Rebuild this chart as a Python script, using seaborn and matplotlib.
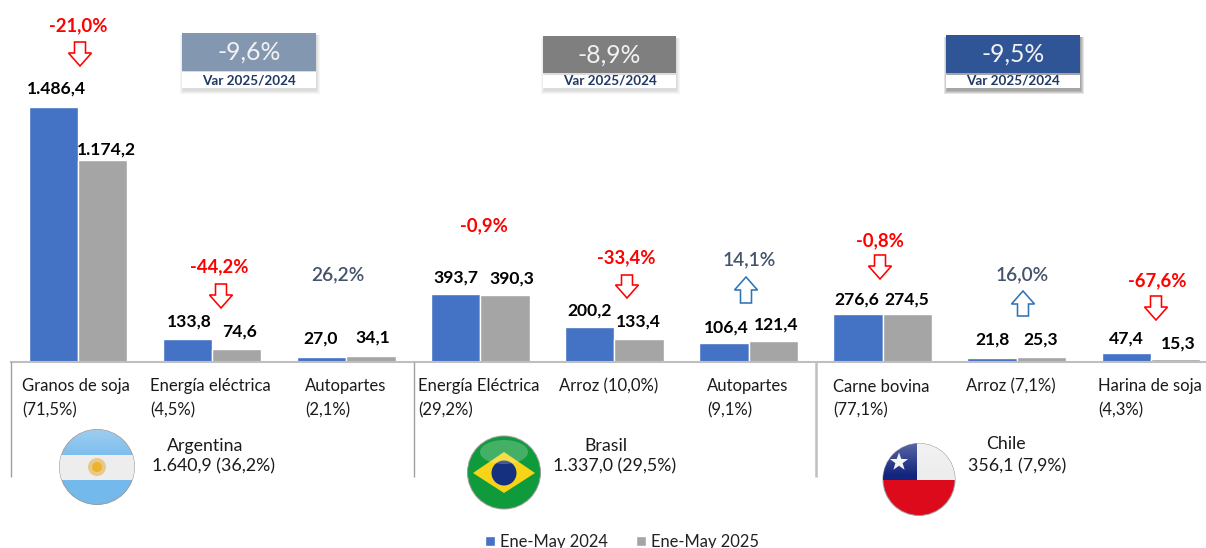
import numpy as np
import pandas as pd
import matplotlib
matplotlib.use("Agg")
import matplotlib.pyplot as plt
from matplotlib.patches import Circle, Ellipse, Polygon, Rectangle
import seaborn as sns

# ---------- data ----------
categories = ["Granos de soja\n(71,5%)", "Energía eléctrica\n(4,5%)", "Autopartes\n(2,1%)",
              "Energía Eléctrica\n(29,2%)", "Arroz (10,0%)", "Autopartes\n(9,1%)",
              "Carne bovina\n(77,1%)", "Arroz (7,1%)", "Harina de soja\n(4,3%)"]
values_2024 = [1486.4, 133.8, 27.0, 393.7, 200.2, 106.4, 276.6, 21.8, 47.4]
values_2025 = [1174.2, 74.6, 34.1, 390.3, 133.4, 121.4, 274.5, 25.3, 15.3]
labels_2024 = ["1.486,4", "133,8", "27,0", "393,7", "200,2", "106,4", "276,6", "21,8", "47,4"]
labels_2025 = ["1.174,2", "74,6", "34,1", "390,3", "133,4", "121,4", "274,5", "25,3", "15,3"]
var_labels = ["-21,0%", "-44,2%", "26,2%", "-0,9%", "-33,4%", "14,1%", "-0,8%", "16,0%", "-67,6%"]
periods = ["Ene-May 2024", "Ene-May 2025"]
countries = ["Argentina", "Brasil", "Chile"]
country_totals = ["1.640,9 (36,2%)", "1.337,0 (29,5%)", "356,1 (7,9%)"]
country_vars = ["-9,6%", "-8,9%", "-9,5%"]
var_caption = "Var 2025/2024"

# ---------- layout (pixels of the 1206x548 picture) ----------
W, H = 1206, 548
BASE_Y = 361.5
PX_PER_UNIT = 255.0 / 1486.4
GROUP_STEP = 134.1
FONT = "Lato"
BLUE, GREY, RED, SLATE, ARROW_UP, NAVY = "#4472C4", "#A5A5A5", "#FF0000", "#44546A", "#2E75B6", "#1F3864"

sns.set_theme(style="white")
plt.rcParams["font.family"] = [FONT, "DejaVu Sans"]

fig = plt.figure(figsize=(W / 100, H / 100), dpi=100)
fig.patch.set_facecolor("white")
ax = fig.add_axes([11 / W, 1 - BASE_Y / H, (W - 11) / W, BASE_Y / H])

df = pd.DataFrame({
    "cat": categories * 2,
    "valor": values_2024 + values_2025,
    "periodo": [periods[0]] * 9 + [periods[1]] * 9,
})
sns.barplot(data=df, x="cat", y="valor", hue="periodo", order=categories, hue_order=periods,
            palette=[BLUE, GREY], width=0.735, gap=0, saturation=1, errorbar=None, ax=ax)
ax.set_xlim(-0.5, (W - 78) / GROUP_STEP)
ax.set_ylim(0, BASE_Y / PX_PER_UNIT)
ax.set_xlabel("")
ax.set_ylabel("")
ax.set_xticks([])
ax.set_yticks([])
for s in ("top", "right", "left"):
    ax.spines[s].set_visible(False)
ax.spines["bottom"].set_color("#BFBFBF")
ax.spines["bottom"].set_linewidth(1.5)

leg = ax.get_legend()
handles = leg.legend_handles
leg.remove()
fig.legend(handles, periods, loc="center", bbox_to_anchor=(622 / W, 1 - 542 / H), ncol=2, frameon=False,
           fontsize=11.9, handlelength=0.61, handleheight=0.61, handletextpad=0.3, columnspacing=1.75,
           borderpad=0, labelcolor="#222222")

# value labels, anchored on each bar top with small horizontal nudges (px)
BAR_OFF = 0.1825
nudge_2024 = [3, 2, -1, 0.5, 0, 2, -1, 0, 0]
nudge_2025 = [4, 3, 2, 7, 0, 3, 0, 0, 3]
lift_px = [18, 17, 18, 16, 17, 16, 15, 18, 15]
for i in range(9):
    for vals, labs, nudges, sign in ((values_2024, labels_2024, nudge_2024, -1),
                                     (values_2025, labels_2025, nudge_2025, 1)):
        lift = lift_px[i]
        if labs[i] == "1.174,2":
            lift = 10.5
        ax.annotate(labs[i], (i + sign * BAR_OFF, vals[i]), xytext=(nudges[i] * 0.72, lift * 0.72),
                    textcoords="offset points", ha="center", va="center", fontsize=12.6,
                    fontweight="bold", color="black", clip_on=False)

# overlay in pixel coordinates for annotations and decorations
ov = fig.add_axes([0, 0, 1, 1], zorder=5)
ov.patch.set_alpha(0)
ov.axis("off")


def pix_limits():
    ov.set_xlim(0, W)
    ov.set_ylim(H, 0)


pix_limits()

# separators
for x, lw, col in ((11.3, 1.0, "#A0A0A0"), (413.5, 1.0, "#A0A0A0"), (816, 1.8, "#BFBFBF")):
    ov.plot([x, x], [BASE_Y, 476.5], color=col, lw=lw, solid_capstyle="butt")

# category labels
cat_x = [22, 150, 305, 418, 559, 707, 833, 966, 1098]
for x, t in zip(cat_x, categories):
    ov.text(x, 378.5, t, ha="left", va="top", fontsize=12.0, color="#1a1a1a", linespacing=1.58)

# variation labels and arrows
var_pos = [(78, 26), (219, 267), (338, 275), (484, 226), (626, 258), (749, 260), (880, 241), (1022, 275), (1157, 281)]
arrows = {0: (80, 42, 66), 1: (221, 284, 308), 4: (627, 275, 298), 5: (746, 277, 303),
          6: (880, 255, 279), 7: (1023, 291, 316), 8: (1156, 296, 320)}
for i, (t, (x, y)) in enumerate(zip(var_labels, var_pos)):
    neg = t.startswith("-")
    ov.text(x, y, t, ha="center", va="center", fontsize=13.3 if neg else 13.8,
            fontweight="bold" if neg else "semibold", color=RED if neg else SLATE)
    if i in arrows:
        cx, top, bot = arrows[i]
        hw, sw = 11.5, 5.5
        if neg:
            shoulder = bot - 13
            pts = [(cx - sw, top), (cx + sw, top), (cx + sw, shoulder), (cx + hw, shoulder), (cx, bot),
                   (cx - hw, shoulder), (cx - sw, shoulder)]
        else:
            shoulder = top + 13
            pts = [(cx - sw, bot), (cx + sw, bot), (cx + sw, shoulder), (cx + hw, shoulder), (cx, top),
                   (cx - hw, shoulder), (cx - sw, shoulder)]
        ov.add_patch(Polygon(pts, closed=True, fc="white", ec=RED if neg else ARROW_UP, lw=1.15, joinstyle="miter"))

# variation boxes
boxes = [(182, 316, 33, 70.5, "#8497B0", "#000000", 0.035),
         (543, 676, 36, 73, "#7F7F7F", "#000000", 0.035),
         (946, 1080, 35, 73, "#2F5597", "#000000", 0.10)]
for (x0, x1, y0, y1, col, shadow, alpha), t in zip(boxes, country_vars):
    for grow in (0, 1, 2, 3):
        ov.add_patch(Rectangle((x0 + 1 - grow, y0 + 2), x1 - x0 + 2 * grow, 87.5 - y0 + 1 + grow,
                               fc=shadow, ec="none", alpha=alpha))
    ov.add_patch(Rectangle((x0, y0), x1 - x0, y1 - y0, fc=col, ec="none"))
    ov.add_patch(Rectangle((x0, y1 + 1.5), x1 - x0, 87.5 - y1 - 1.5, fc="white", ec="none"))
    ov.text((x0 + x1) / 2, (y0 + y1) / 2 + 0.5, t, ha="center", va="center", fontsize=17.8, color="#F2F2F2")
    ov.text((x0 + x1) / 2, 80.5, var_caption, ha="center", va="center", fontsize=9.7,
            fontweight="bold", color=NAVY)

# country names
for name, total, (nx, ny), (tx, ty) in zip(countries, country_totals,
                                           [(205, 446), (606, 446), (1006, 444)],
                                           [(213, 466), (615, 466), (1017, 466)]):
    ov.text(nx, ny, name, ha="center", va="center", fontsize=12.8, color="#1a1a1a")
    ov.text(tx, ty, total, ha="center", va="center", fontsize=12.8, color="#1a1a1a")


# flags
def gloss(cx, cy, r, clip, strength=0.5, extent=0.55):
    yy = np.linspace(0, 1, 80)[:, None]
    img = np.ones((80, 1, 4))
    img[..., 3] = np.clip(strength * (extent - yy) / extent, 0, 1)
    im = ov.imshow(img, extent=(cx - r, cx + r, cy + r, cy - r), aspect="auto", zorder=6, interpolation="bilinear")
    im.set_clip_path(clip)


def flag_disc(cx, cy, r, col):
    c = Circle((cx, cy), r, fc=col, ec="#9a9a9a", lw=0.7, zorder=3)
    ov.add_patch(c)
    return c


# Argentina
c = flag_disc(97, 467, 37.5, "#74B9EC")
band = Rectangle((59, 455), 76, 25, fc="#EDEDED", ec="none", zorder=4)
ov.add_patch(band)
band.set_clip_path(c)
ov.add_patch(Circle((97, 467), 9, fc="#E9C98A", ec="none", zorder=5))
ov.add_patch(Circle((97, 467), 5, fc="#EDB32C", ec="none", zorder=5))
gloss(97, 467, 37.5, c, strength=0.3, extent=0.45)

# Brasil
c = flag_disc(504, 472.5, 36.5, "#0F9A3C")
ov.add_patch(Polygon([(473, 473), (504, 452), (535, 473), (504, 493)], closed=True, fc="#F7D417", ec="none", zorder=4))
ov.add_patch(Circle((504, 473), 12.5, fc="#14307F", ec="none", zorder=5))
ov.add_patch(Ellipse((504, 452), 48, 24, fc="white", ec="none", alpha=0.22, zorder=6))

# Chile
c = flag_disc(919, 479.5, 36, "#DD0A1B")
w = Rectangle((883, 443), 72, 37, fc="#EDEDED", ec="none", zorder=4)
ov.add_patch(w)
w.set_clip_path(c)
b = Rectangle((883, 443), 34, 37, fc="#12247E", ec="none", zorder=5)
ov.add_patch(b)
b.set_clip_path(c)
ang = np.deg2rad(np.arange(0, 360, 36) - 90)
rad = np.where(np.arange(10) % 2 == 0, 9.5, 3.8)
ov.add_patch(Polygon(np.c_[899 + rad * np.cos(ang), 462 + rad * np.sin(ang)], closed=True, fc="#F4F4F4", ec="none", zorder=5))
gloss(919, 479.5, 36, c, strength=0.3, extent=0.45)
pix_limits()

fig.savefig("out.png", dpi=100)
